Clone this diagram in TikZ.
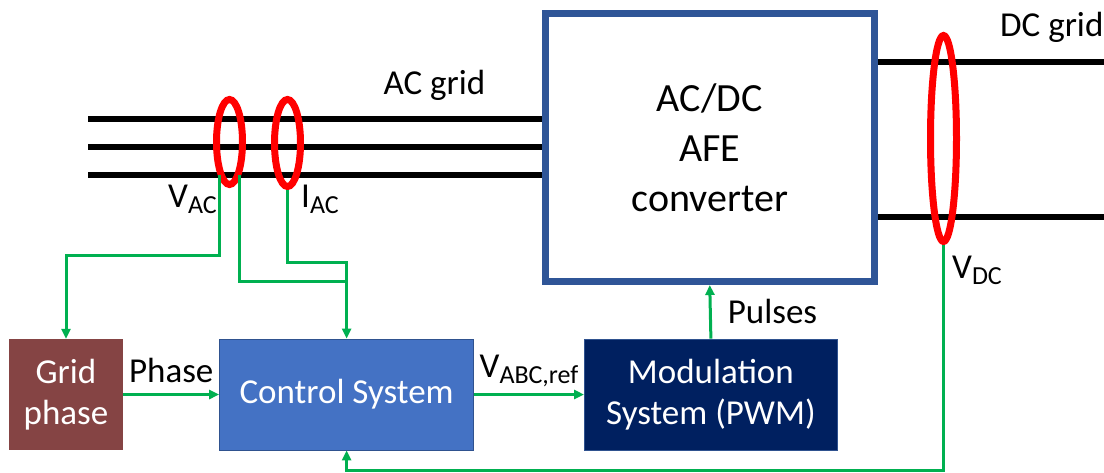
\documentclass[tikz,border=0pt]{standalone}
\usepackage{fontspec}
\setmainfont{Carlito}
\usetikzlibrary{arrows.meta,positioning,calc,shapes.geometric}
\definecolor{convblue}{HTML}{2F5597}
\definecolor{ctrlblue}{HTML}{4472C4}
\definecolor{edgeblue}{HTML}{2F528F}
\definecolor{modnavy}{HTML}{002060}
\definecolor{phasebrown}{HTML}{854444}
\definecolor{sigreen}{HTML}{00B050}
\newcommand{\lowtxt}[1]{\raisebox{-6pt}{\fontsize{26}{26}\selectfont #1}}

\begin{document}
\begin{tikzpicture}[
  x=1pt, y=-1pt,
  block/.style={rectangle, inner sep=0pt, minimum height=111pt, text=white,
    align=center, font=\fontsize{35}{41}\selectfont},
  wire/.style={line width=6pt, draw=black},
  ring/.style={ellipse, draw=red, line width=7pt, inner sep=0pt, minimum width=26pt},
  sig/.style={draw=sigreen, line width=3pt},
  arr/.style={sig, -{Triangle[length=10pt,width=9pt]}},
  lbl/.style={font=\fontsize{35}{41}\selectfont, inner sep=0pt}
]
\useasboundingbox (0,0) rectangle (1104,472);

% converter and control blocks
\node[draw=convblue, line width=7pt, minimum width=329.5pt, minimum height=268pt,
  inner sep=0pt, align=center, font=\fontsize{40}{50}\selectfont] (conv) at (709.75,147.5)
  {AC/DC\\AFE\\converter};
\node[block, fill=phasebrown, minimum width=114pt] (grid) at (66,394.5) {Grid\\phase};
\node[block, fill=ctrlblue, draw=edgeblue, line width=0.8pt, minimum width=254pt,
  right=96pt of grid] (ctrl) {Control System};
\node[block, fill=modnavy, draw=edgeblue, line width=0.8pt, minimum width=253pt,
  right=110pt of ctrl] (mod) {Modulation\\System (PWM)};

% grid wires
\foreach \y [count=\i] in {119,147,175} {
  \coordinate (ac\i) at (88,\y);
  \draw[wire] (ac\i) -- (ac\i -| conv.west);
}
\coordinate (dc1) at (1104,62);
\coordinate (dc2) at (1104,217);
\draw[wire] (dc1 -| conv.east) -- (dc1);
\draw[wire] (dc2 -| conv.east) -- (dc2);

\node[lbl, anchor=base] (acg) at (434.5,94) {AC grid};
\node[lbl, anchor=base west] (dcg) at (1000,36) {DC grid};

% measurement rings
\node[ring, minimum height=85pt] (vac) at (229.5,142) {};
\node[ring, minimum height=87pt] (iac) at (287.5,143) {};
\node[ring, minimum height=206pt] (vdc) at (943.5,138.5) {};

\node[lbl, anchor=base] (vacl) at (192.5,207) {V\lowtxt{AC}};
\node[lbl, anchor=base] (iacl) at (320,207) {I\lowtxt{AC}};
\node[lbl, anchor=base] (vdcl) at (977,278) {V\lowtxt{DC}};

% measured signals
\coordinate (vaca) at ($(vac.center)+(-10.5,33)$);
\coordinate (vacb) at ($(vac.center)+(9.5,33)$);
\coordinate (jph) at (grid.north |- 0,255);
\coordinate (jia) at (ctrl.north |- 0,262);
\coordinate (jva) at (ctrl.north |- 0,281);
\coordinate (jdc) at (ctrl.south |- 0,470);
\draw[arr] (vaca) |- (jph) -- (grid.north);
\draw[sig] (iac.south) |- (jia) -- (jva);
\draw[arr] (vacb) |- (jva) -- (ctrl.north);
\draw[arr] (vdc.south) |- (jdc) -- (ctrl.south);

% forward path
\draw[arr] (grid.east) -- node[lbl, midway, above=10pt] {Phase} (ctrl.west);
\draw[arr] (ctrl.east) -- node[lbl, midway, above=6pt] {V\lowtxt{ABC,ref}} (mod.west);
\draw[arr] (mod.north) -- node[lbl, midway, right=16pt] {Pulses} (conv.south);
\end{tikzpicture}
\end{document}
